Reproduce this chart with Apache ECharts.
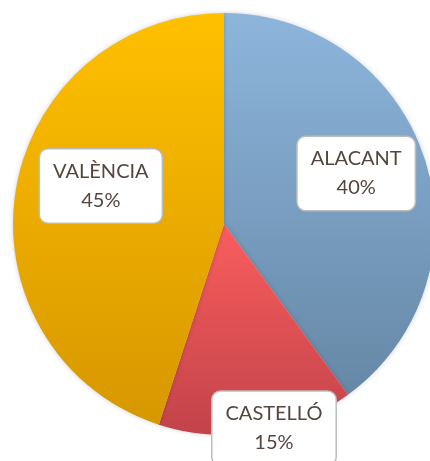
<!DOCTYPE html>
<html>
<head>
<meta charset="utf-8">
<script src="https://cdn.jsdelivr.net/npm/echarts@6/dist/echarts.min.js"></script>
<style>
  html, body { margin: 0; padding: 0; background: #fff; }
  #chart { width: 430px; height: 461px; }
</style>
</head>
<body>
<div id="chart"></div>
<script>
const categories = ['ALACANT', 'CASTELLÓ', 'VALÈNCIA'];
const values = [40, 15, 45];

// vertical gradient per slice, top -> bottom
const gradients = [
  ['#8db5dc', '#6688a6'],
  ['#fa5d5d', '#c2434a'],
  ['#ffc000', '#d79700']
];
// nudge labels from the 'inside' spot to where the reference puts them
const labelOffsets = [[29, -17], [33, 97], [-16, -21]];

const chart = echarts.init(document.getElementById('chart'));

const data = categories.map((name, i) => ({
  name,
  value: values[i],
  itemStyle: {
    color: new echarts.graphic.LinearGradient(0, 0, 0, 1, [
      { offset: 0, color: gradients[i][0] },
      { offset: 1, color: gradients[i][1] }
    ])
  },
  label: { offset: labelOffsets[i] }
}));

chart.setOption({
  animation: false,
  series: [
    {
      type: 'pie',
      center: [224, 224],
      radius: 211,
      startAngle: 90,
      clockwise: true,
      avoidLabelOverlap: false,
      itemStyle: {
        borderWidth: 0,
        shadowBlur: 5,
        shadowColor: 'rgba(0,0,0,0.18)'
      },
      label: {
        show: true,
        position: 'inside',
        formatter: '{b}\n{d}%',
        fontFamily: 'Lato, "Open Sans", sans-serif',
        fontSize: 20,
        lineHeight: 29,
        color: '#54463f',
        backgroundColor: '#ffffff',
        borderColor: '#bcbcbc',
        borderWidth: 1.5,
        borderRadius: 8,
        padding: [8, 13, 7, 13],
        align: 'center'
      },
      labelLine: { show: false },
      emphasis: { disabled: true },
      data
    }
  ]
});
</script>
</body>
</html>
